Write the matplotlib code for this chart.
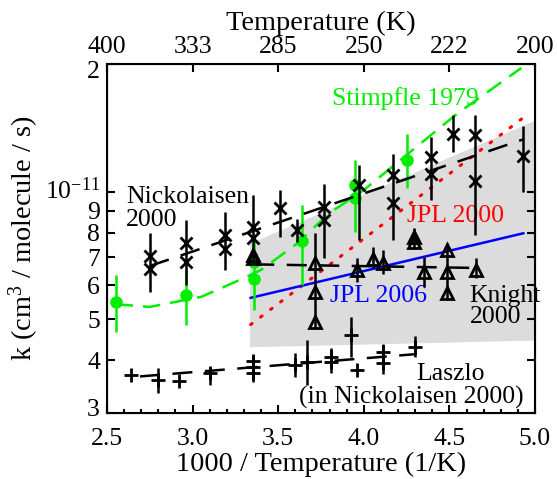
import numpy as np
import matplotlib
matplotlib.use("Agg")
import matplotlib.pyplot as plt
import matplotlib.transforms as mtransforms
from matplotlib.ticker import FixedLocator, FixedFormatter, NullLocator, MultipleLocator

plt.rcParams['font.family'] = ['Liberation Serif', 'DejaVu Serif']
plt.rcParams['mathtext.fontset'] = 'custom'
plt.rcParams['mathtext.rm'] = 'Liberation Serif'
plt.rcParams['mathtext.it'] = 'Liberation Serif:italic'
plt.rcParams['font.size'] = 18.5

E = 1e-12

# ---- Stimpfle 1979 (green) ----
stimp_x = [2.55, 2.96, 3.36, 3.36, 3.64, 3.95, 3.95, 4.25]
stimp_k = [5.48, 5.70, 6.22, 6.82, 7.64, 10.35, 9.66, 11.87]
stimp_err_x = [2.55, 2.96, 3.36, 3.64, 3.95, 4.25]
stimp_err_lo = [4.66, 4.84, 5.25, 6.02, 8.03, 10.19]
stimp_err_hi = [6.35, 6.53, 7.90, 9.29, 11.87, 13.67]
stimp_fit_x = [2.55, 2.75, 3.05, 3.25, 3.40, 3.60, 3.80, 4.00, 4.25, 4.55, 4.92]
stimp_fit_k = [5.42, 5.34, 5.64, 6.12, 6.53, 7.48, 8.90, 10.08, 12.2, 15.32, 19.57]

# ---- Nickolaisen 2000 (black x) ----
nick_x = [2.75, 2.75, 2.96, 2.96, 3.19, 3.19, 3.35, 3.35, 3.51, 3.61, 3.77, 3.77,
          3.97, 4.17, 4.17, 4.39, 4.39, 4.52, 4.65, 4.65, 4.93]
nick_k = [7.04, 6.55, 7.55, 6.83, 7.90, 7.30, 8.26, 7.75, 9.13, 8.11, 9.21, 8.57,
          10.36, 10.94, 9.38, 12.09, 11.00, 13.67, 13.60, 10.60, 12.13]
nick_err_x = [2.75, 2.96, 3.19, 3.35, 3.51, 3.61, 3.77, 3.97, 4.17, 4.39, 4.52, 4.65, 4.93]
nick_err_lo = [5.79, 6.02, 6.53, 6.89, 7.81, 7.60, 6.97, 7.68, 7.68, 9.55, 12.42, 7.90, 9.99]
nick_err_hi = [7.98, 8.57, 8.96, 9.81, 10.08, 8.60, 10.42, 11.55, 12.26, 13.47, 15.16, 15.16, 14.28]
nick_fit_x = [2.75, 4.93]
nick_fit_k = [6.67, 13.27]

# ---- Knight 2000 (black triangles) ----
knight_x = [3.355, 3.355, 3.715, 3.715, 3.715, 3.959, 4.052, 4.114, 4.293, 4.293,
            4.352, 4.484, 4.484, 4.484, 4.654]
knight_k = [7.08, 6.95, 6.77, 5.80, 4.93, 6.53, 6.92, 6.77, 7.81, 7.60,
            6.47, 7.27, 6.47, 5.75, 6.53]
knight_err_x = [3.715, 3.959, 4.052, 4.114, 4.293, 4.352, 4.484, 4.654]
knight_err_lo = [4.76, 6.13, 6.59, 6.39, 7.34, 5.94, 5.54, 6.25]
knight_err_hi = [7.98, 6.97, 7.41, 7.27, 8.20, 7.02, 7.56, 6.97]
knight_fit_x = [3.36, 4.66]
knight_fit_k = [6.73, 6.60]

# ---- Laszlo (in Nickolaisen 2000) (black +) ----
lasz_x = [2.638, 2.80, 2.922, 3.102, 3.355, 3.355, 3.355, 3.598, 3.667, 3.808, 3.808,
          3.925, 3.958, 4.114, 4.114, 4.299]
lasz_k = [3.69, 3.59, 3.57, 3.72, 3.97, 3.85, 3.72, 3.89, 3.96, 4.07, 3.95,
          4.58, 3.79, 4.19, 3.93, 4.30]
lasz_err_x = [2.80, 3.102, 3.355, 3.598, 3.667, 3.808, 3.925, 4.114, 4.299]
lasz_err_lo = [3.35, 3.49, 3.55, 3.65, 3.49, 3.73, 4.07, 3.71, 4.07]
lasz_err_hi = [3.83, 3.85, 4.09, 4.16, 4.46, 4.27, 5.06, 4.37, 4.56]
lasz_fit_x = [2.693, 4.299]
lasz_fit_k = [3.66, 4.13]

# ---- JPL recommendations ----
jpl06_x = [3.339, 4.932]
jpl06_k = [5.61, 7.97]
jpl06_band_x = [3.333, 5.0]
jpl06_band_lo = [4.30, 4.46]
jpl06_band_hi = [7.55, 14.75]
jpl00_x = [3.339, 4.928]
jpl00_k = [4.85, 14.9]

# ---- axes ticks ----
xticks = [2.5, 3.0, 3.5, 4.0, 4.5, 5.0]
top_labels = ["400", "333", "285", "250", "222", "200"]
yticks = [3, 4, 5, 6, 7, 8, 9, 10, 20]
ylabels = ["3", "4", "5", "6", "7", "8", "9", r"$10^{-11}$", "2"]

def s(v):
    return np.asarray(v, dtype=float) * E

fig = plt.figure(figsize=(5.57, 4.79), dpi=100)
ax = fig.add_axes([107/557, 1 - 413/479, (535-107)/557, (413-64)/479])
ax.set_yscale('log')
ax.set_xlim(2.5, 5.0)
ax.set_ylim(3e-12, 2e-11)

GREEN = '#00ee00'
LW = 1.8
FS_ANN = 18.5
FS_TICK = 18.5
FS_TITLE = 20.4

# band
ax.fill_between(jpl06_band_x, s(jpl06_band_lo), s(jpl06_band_hi), color='#dcdcdc', lw=0, zorder=1)

# JPL lines
ax.plot(jpl00_x, s(jpl00_k), color='red', ls=(0, (0.6, 3.5)), lw=2.2, dash_capstyle='round', zorder=2)
ax.plot(jpl06_x, s(jpl06_k), color='blue', lw=LW, zorder=2)

# Stimpfle
ax.plot(stimp_fit_x, s(stimp_fit_k), color=GREEN, lw=LW, ls=(0, (7, 4)), zorder=3)
ax.vlines(stimp_err_x, s(stimp_err_lo), s(stimp_err_hi), color=GREEN, lw=LW, zorder=3)
ax.plot(stimp_x, s(stimp_k), 'o', color=GREEN, ms=8, zorder=3)

# Nickolaisen
ax.plot(nick_fit_x, s(nick_fit_k), color='black', lw=LW, ls=(0, (8, 5)), zorder=4)
ax.vlines(nick_err_x, s(nick_err_lo), s(nick_err_hi), color='black', lw=LW, zorder=4)
ax.plot(nick_x, s(nick_k), 'x', color='black', ms=9, mew=2, zorder=4)

# Knight
ax.plot(knight_fit_x, s(knight_fit_k), color='black', lw=LW, ls=(0, (8, 5)), zorder=4)
ax.vlines(knight_err_x, s(knight_err_lo), s(knight_err_hi), color='black', lw=LW, zorder=4)
ax.plot(knight_x, s(knight_k), '^', mfc='none', mec='black', ms=8, mew=2, zorder=4)

# Laszlo
ax.plot(lasz_fit_x, s(lasz_fit_k), color='black', lw=LW, ls=(0, (8, 5)), zorder=4)
ax.vlines(lasz_err_x, s(lasz_err_lo), s(lasz_err_hi), color='black', lw=LW, zorder=4)
ax.plot(lasz_x, s(lasz_k), '+', color='black', ms=10, mew=2, zorder=4)

# annotations (baseline anchored)
kw = dict(fontsize=FS_ANN, va='baseline')
ax.text(3.814, 1.60e-11, "Stimpfle 1979", color=GREEN, ha='left', **kw)
ax.text(2.611, 9.38e-12, "Nickolaisen", color='black', ha='left', **kw)
ax.text(2.611, 8.29e-12, "2000", color='black', ha='left', **kw)
ax.text(4.252, 8.45e-12, "JPL 2000", color='red', ha='left', **kw)
ax.text(3.803, 5.49e-12, "JPL 2006", color='blue', ha='left', **kw)
ax.text(4.617, 5.49e-12, "Knight", color='black', ha='left', clip_on=False, **kw)
ax.text(4.617, 4.89e-12, "2000", color='black', ha='left', **kw)
ax.text(4.504, 3.59e-12, "Laszlo", color='black', ha='center', **kw)
ax.text(4.276, 3.15e-12, "(in Nickolaisen 2000)", color='black', ha='center', **kw)

# axes styling
ax.xaxis.set_major_locator(FixedLocator(xticks))
ax.xaxis.set_minor_locator(MultipleLocator(0.1))
ax.set_xticklabels(["%.1f" % v for v in xticks])
ax.yaxis.set_major_locator(FixedLocator(s(yticks)))
ax.yaxis.set_major_formatter(FixedFormatter(ylabels))
ax.yaxis.set_minor_locator(NullLocator())
ax.tick_params(axis='both', which='major', direction='in', length=6, width=1.5, labelsize=FS_TICK)
ax.tick_params(axis='x', which='minor', direction='in', length=3, width=1.5)
ax.tick_params(axis='y', right=True, which='major')
ax.tick_params(axis='x', top=False, which='both')
ax.tick_params(axis='x', pad=11)
ax.tick_params(axis='y', pad=5)
for sp in ax.spines.values():
    sp.set_linewidth(1.5)
ax.set_xlabel("1000 / Temperature (1/K)", fontsize=FS_TITLE, labelpad=1)
ax.set_ylabel(r"k (cm$^3$ / molecule / s)", fontsize=FS_TITLE, labelpad=3)

# nudge end labels of the y axis inward, as in the reference
offsets_px = {0: 5, 7: 3, 8: -6}
for i, t in enumerate(ax.yaxis.get_major_ticks()):
    if i in offsets_px:
        t.label1.set_transform(t.label1.get_transform() +
                               mtransforms.Affine2D().translate(0, offsets_px[i]))

top = ax.twiny()
top.set_xlim(ax.get_xlim())
top.xaxis.set_major_locator(FixedLocator(xticks))
top.xaxis.set_minor_locator(NullLocator())
top.set_xticklabels(top_labels)
top.tick_params(axis='x', direction='in', length=6, width=1.5, labelsize=FS_TICK, pad=4)
top.set_xlabel("Temperature (K)", fontsize=FS_TITLE, labelpad=5)

fig.savefig("out.png", dpi=100)
